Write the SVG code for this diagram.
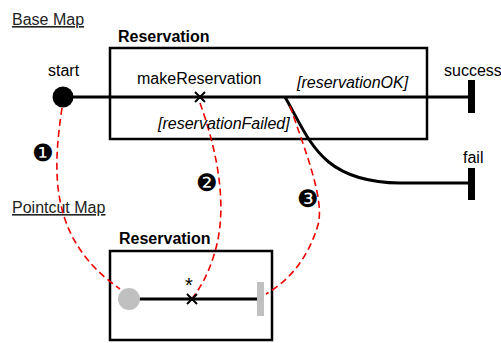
<svg xmlns="http://www.w3.org/2000/svg" width="501" height="343" viewBox="0 0 501 343">
<style>
text{font-family:"Liberation Sans",Arial,sans-serif;font-size:16px;fill:#000}
.t{font-weight:bold}
.i{font-style:italic}
.u{text-decoration:underline;fill:#222}
.box{fill:#fff;stroke:#000;stroke-width:2.5}
.ln{fill:none;stroke:#000;stroke-width:3}
.rd{fill:none;stroke:#e00;stroke-width:1.6;stroke-dasharray:7,4}
.x{stroke:#000;stroke-width:2}
.n{font-family:"DejaVu Sans",sans-serif;font-size:24px}
</style>
<text class="u" x="12" y="25">Base Map</text>
<text class="u" x="12" y="213">Pointcut Map</text>
<g id="baseReservation">
<text class="t" x="118" y="42">Reservation</text>
<rect class="box" x="110" y="48" width="317" height="91"/>
</g>
<g id="pointcutReservation">
<text class="t" x="119" y="244">Reservation</text>
<rect class="box" x="110" y="251" width="162" height="89"/>
</g>
<g id="connectors">
<line class="ln" x1="63" y1="97" x2="470" y2="97"/>
<path class="ln" d="M285,97 C310,140 320,182 400,183 L470,183"/>
<line class="ln" x1="129" y1="299" x2="260" y2="299"/>
<path class="rd" d="M62,108 C52,175 50,240 120,289"/>
<path class="rd" d="M200,103 C215,145 230,205 214,255 C208,275 200,288 193,297"/>
<path class="rd" d="M290,106 C305,150 325,200 318,225 C308,258 290,280 266,294"/>
</g>
<g id="start">
<text x="48" y="76">start</text>
<circle cx="63" cy="97" r="10.5" fill="#000"/>
</g>
<g id="success">
<text x="444" y="76">success</text>
<rect x="468" y="80" width="7" height="33" fill="#000"/>
</g>
<g id="fail">
<text x="463" y="163">fail</text>
<rect x="468" y="168" width="7" height="32" fill="#000"/>
</g>
<g id="makeReservation">
<text x="137" y="84">makeReservation</text>
<path class="x" d="M195,92 L205,102 M205,92 L195,102"/>
</g>
<text class="i" x="297" y="88">[reservationOK]</text>
<text class="i" x="158" y="129">[reservationFailed]</text>
<g id="pcStart"><circle cx="129" cy="299" r="11" fill="#c0c0c0"/></g>
<g id="pcJoin">
<text x="185" y="292" style="font-size:20px">*</text>
<path class="x" d="M187,294 L197,304 M197,294 L187,304"/>
</g>
<g id="pcEnd"><rect x="257" y="282" width="7" height="34" fill="#c0c0c0"/></g>
<text class="n" x="32" y="161">❶</text>
<text class="n" x="196" y="191">❷</text>
<text class="n" x="297" y="207">❸</text>
</svg>
